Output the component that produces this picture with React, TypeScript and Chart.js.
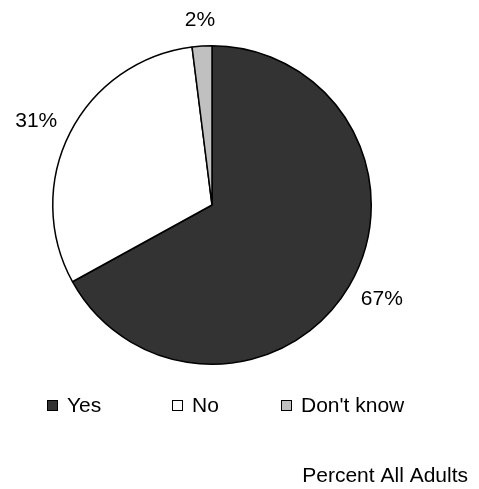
import React, { useEffect, useRef } from "react";
import { Chart, registerables } from "chart.js";

Chart.register(...registerables);

const categories = ["Yes", "No", "Don't know"];
const values = [67, 31, 2];
const valueLabels = ["67%", "31%", "2%"];
const colors = ["#333333", "#ffffff", "#c0c0c0"];
const title = "Percent All Adults";

const FONT = "'Liberation Sans', Arial, sans-serif";

const extrasPlugin = {
  id: "extras",
  afterDatasetsDraw(chart: any) {
    const ctx = chart.ctx;
    const meta = chart.getDatasetMeta(0);
    ctx.save();
    ctx.fillStyle = "#000";
    ctx.font = `21px ${FONT}`;
    ctx.textBaseline = "middle";
    ctx.textAlign = "center";
    meta.data.forEach((arc: any, i: number) => {
      const { x, y, startAngle, endAngle, outerRadius } = arc.getProps(
        ["x", "y", "startAngle", "endAngle", "outerRadius"],
        true
      );
      const mid = (startAngle + endAngle) / 2;
      const c = Math.cos(mid);
      const s = Math.sin(mid);
      const w = ctx.measureText(valueLabels[i]).width / 2;
      const h = 9;
      const gap = 17;
      const lx = x + c * (outerRadius + gap) + c * w;
      const ly = y + s * (outerRadius + gap) + s * h;
      ctx.fillText(valueLabels[i], lx, ly);
    });
    // legend
    const legendX = [47, 172, 281];
    const legendY = 405;
    ctx.textAlign = "left";
    categories.forEach((cat, i) => {
      ctx.fillStyle = colors[i];
      ctx.fillRect(legendX[i], legendY - 5, 11, 11);
      ctx.strokeStyle = "#000";
      ctx.lineWidth = 1;
      ctx.strokeRect(legendX[i] + 0.5, legendY - 4.5, 10, 10);
      ctx.fillStyle = "#000";
      ctx.fillText(cat, legendX[i] + 20, legendY + 1);
    });
    ctx.textAlign = "right";
    ctx.fillText(title, 468, 476);
    ctx.restore();
  },
};

export default function App() {
  const ref = useRef<HTMLCanvasElement>(null);
  useEffect(() => {
    if (!ref.current) return;
    const chart = new Chart(ref.current, {
      type: "pie",
      data: {
        labels: categories,
        datasets: [
          {
            data: values,
            backgroundColor: colors,
            borderColor: "#000",
            borderWidth: 1.5,
          },
        ],
      },
      options: {
        responsive: false,
        animation: false,
        layout: { padding: { left: 52, top: 45, right: 107, bottom: 124 } },
        plugins: {
          legend: { display: false },
          tooltip: { enabled: false },
          title: { display: false },
        },
      },
      plugins: [extrasPlugin],
    });
    return () => chart.destroy();
  }, []);
  return (
    <div style={{ position: "absolute", left: 0, top: 0, width: 479, height: 489, background: "#fff" }}>
      <canvas ref={ref} width={479} height={489} style={{ display: "block" }} />
    </div>
  );
}
